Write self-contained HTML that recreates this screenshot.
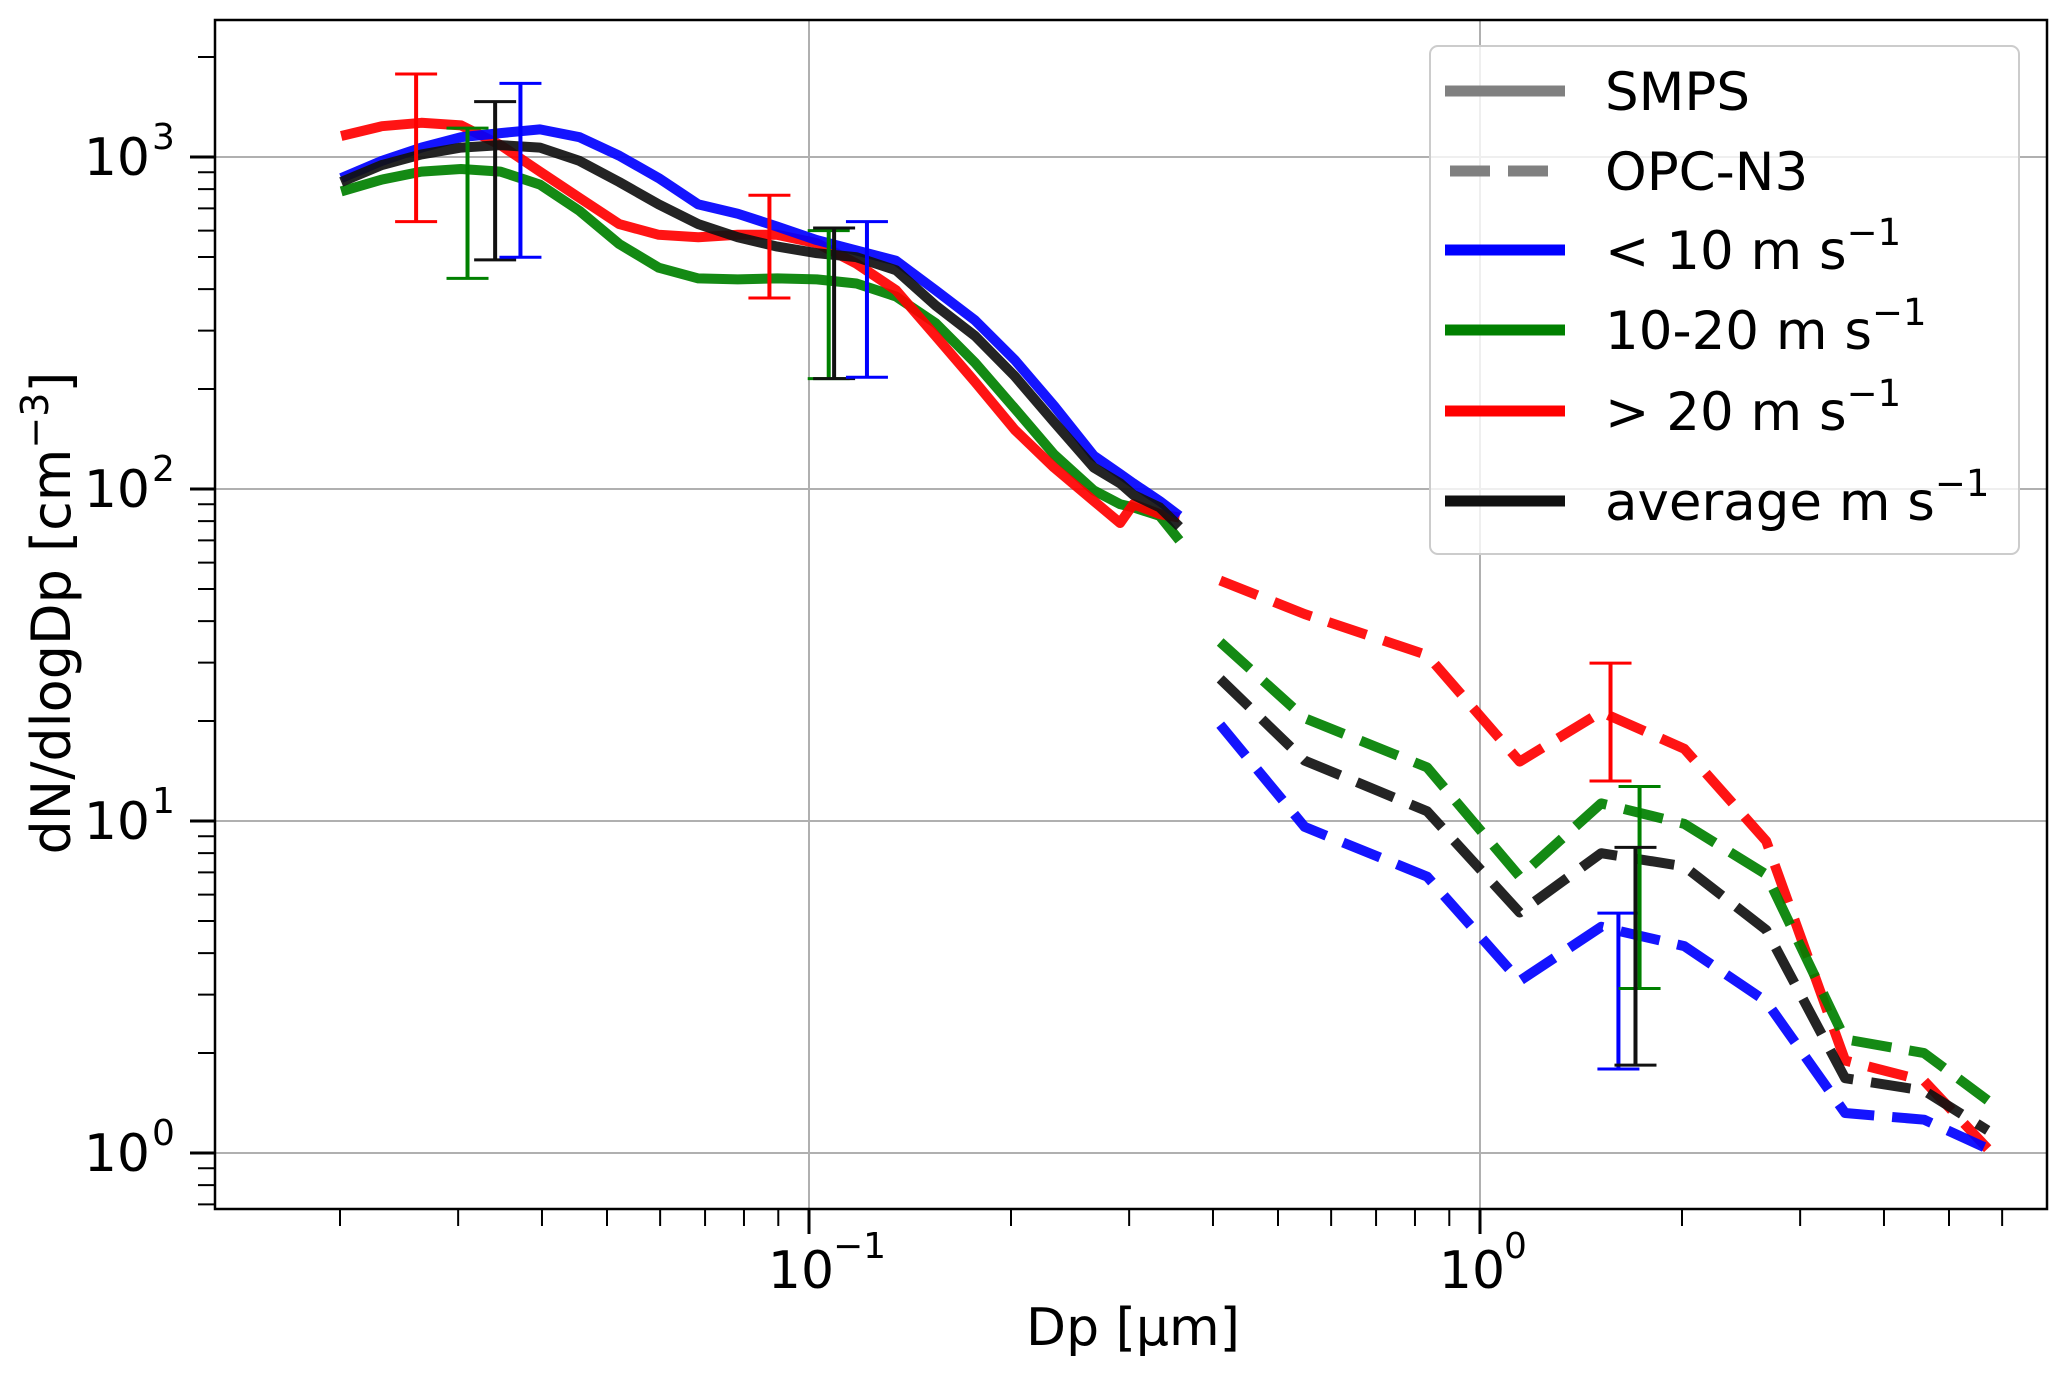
<!DOCTYPE html>
<html><head><meta charset="utf-8"><style>
html,body{margin:0;padding:0;background:#fff;}
svg text{font-family:"DejaVu Sans","Liberation Sans",sans-serif;fill:#000;}
</style></head><body>
<svg id="chart" width="2067" height="1377" viewBox="0 0 2067 1377" xmlns="http://www.w3.org/2000/svg">
<g id="grid"></g>
<g id="series"></g>
<rect x="215" y="20" width="1832" height="1189" fill="none" stroke="#000" stroke-width="2.5"/>
<g id="ticks"></g>
<text x="1133" y="1345" font-size="52" text-anchor="middle">Dp [µm]</text>
<text transform="translate(70,613) rotate(-90)" font-size="54" text-anchor="middle">dN/dlogDp [cm<tspan font-size="38" dy="-22">−3</tspan><tspan dy="22">]</tspan></text>
<g>
<rect x="1430" y="46" width="589" height="508" rx="8" fill="#fff" fill-opacity="0.8" stroke="#ccc" stroke-width="2"/>
<line x1="1445" y1="91" x2="1565" y2="91" stroke="#808080" stroke-width="11"/>
<text x="1605" y="110" font-size="53">SMPS</text>
<line x1="1450" y1="171" x2="1565" y2="171" stroke="#808080" stroke-width="11" stroke-dasharray="40,18"/>
<text x="1605" y="190" font-size="53">OPC-N3</text>
<line x1="1445" y1="250" x2="1565" y2="250" stroke="#0000ff" stroke-width="11"/>
<text x="1605" y="269" font-size="53">&lt; 10 m s<tspan font-size="37" dy="-24">−1</tspan></text>
<line x1="1445" y1="330" x2="1565" y2="330" stroke="#008000" stroke-width="11"/>
<text x="1605" y="349" font-size="53">10-20 m s<tspan font-size="37" dy="-24">−1</tspan></text>
<line x1="1445" y1="411" x2="1565" y2="411" stroke="#ff0000" stroke-width="11"/>
<text x="1605" y="430" font-size="53">&gt; 20 m s<tspan font-size="37" dy="-24">−1</tspan></text>
<line x1="1445" y1="501" x2="1565" y2="501" stroke="#111" stroke-width="11"/>
<text x="1605" y="520" font-size="53">average m s<tspan font-size="37" dy="-24">−1</tspan></text>
</g>
</svg>
<script>
const smpsDp=[0.02008,0.02309,0.02645,0.03029,0.03469,0.03973,0.0455,0.05213,0.0597,0.06839,0.07832,0.0897,0.1027,0.1177,0.1348,0.1544,0.1768,0.2025,0.2319,0.2657,0.2908,0.3043,0.3332,0.3565];
const smpsBlue=[864,973,1067,1147,1180,1211,1147,1009,864,720,675,617,562,523,487,397,322,245,178,126,111,104,92,83];
const smpsGreen=[788,855,904,920,904,826,688,547,464,431,428,431,428,416,380,316,240,175,127,99,90,88,83,70];
const smpsRed=[1157,1238,1268,1245,1086,904,753,628,583,573,583,583,550,477,397,289,210,151,116,92,79,90,84,82];
const smpsBlack=[841,946,1018,1067,1086,1067,973,841,720,628,573,537,513,499,456,357,289,219,159,116,104,96,88,77];
const opcDp=[0.41,0.548,0.834,1.146,1.516,2.016,2.67,3.5,4.59,5.71];
const opcRed=[53,42,31.6,15.1,21.3,16.5,8.7,1.9,1.65,1.03];
const opcGreen=[34.6,20.4,14.5,6.8,11.3,9.8,6.9,2.2,2.0,1.44];
const opcBlack=[26.8,15.2,10.7,5.3,8.0,7.3,4.7,1.68,1.54,1.17];
const opcBlue=[19.5,9.6,6.8,3.3,4.8,4.2,2.86,1.32,1.26,1.03];
const errX=[0.02597,0.03098,0.03406,0.03715,0.0873,0.107,0.109,0.122,1.565,1.608,1.729,1.705];
const errLo=[639,431,490,499,376,215,215,217,13.2,1.79,3.13,1.84];
const errHi=[1778,1222,1468,1667,767,600,611,639,29.9,5.28,12.7,8.33];
const errColor=["#ff0000","#008000","#111","#0000ff","#ff0000","#008000","#111","#0000ff","#ff0000","#0000ff","#008000","#111"];
const yTickLabels=["0","1","2","3"];
const xTickLabels=["−1","0"];

const NS="http://www.w3.org/2000/svg";
function X(v){return 1480+Math.log10(v)*671;}
function Y(v){return 1153-Math.log10(v)*332;}
function mk(tag,attrs,parent){const e=document.createElementNS(NS,tag);for(const k in attrs)e.setAttribute(k,attrs[k]);parent.appendChild(e);return e;}
const grid=document.getElementById('grid'),ticks=document.getElementById('ticks'),ser=document.getElementById('series');
for(let d=0;d<=3;d++){
  const y=Y(Math.pow(10,d));
  const g=mk('line',{x1:215,x2:2047,y1:y,y2:y,stroke:'#b0b0b0','stroke-width':2},grid);
  
  
  const t=mk('line',{x1:190,x2:215,y1:y,y2:y,stroke:'#000','stroke-width':3},ticks);
  
  
  const tx=mk('text',{x:150,y:y+18,'font-size':52,'text-anchor':'end'},ticks);
  tx.textContent='10';
  
  
  const sp=mk('text',{x:152,y:y-8,'font-size':36,'text-anchor':'start'},ticks);
  sp.textContent=yTickLabels[d];
  
  
}
for(let d=-1;d<=3;d++)for(let m=2;m<=9;m++){
  const v=m*Math.pow(10,d),y=Y(v);
  if(y<20||y>1209)continue;
  const t=mk('line',{x1:198,x2:215,y1:y,y2:y,stroke:'#000','stroke-width':2},ticks);
  
  
}
[-1,0].forEach((d,i)=>{
  const x=X(Math.pow(10,d));
  const g=mk('line',{x1:x,x2:x,y1:20,y2:1209,stroke:'#b0b0b0','stroke-width':2},grid);
  
  
  const t=mk('line',{x1:x,x2:x,y1:1209,y2:1234,stroke:'#000','stroke-width':3},ticks);
  
  
  const tx=mk('text',{x:x-8,y:1288,'font-size':52,'text-anchor':'middle'},ticks);
  tx.textContent='10';
  
  
  const sp=mk('text',{x:x+24,y:1258,'font-size':36},ticks);
  sp.textContent=xTickLabels[i];
  
  
});
for(let d=-2;d<=0;d++)for(let m=2;m<=9;m++){
  const x=X(m*Math.pow(10,d));
  if(x<215||x>2047)continue;
  const t=mk('line',{x1:x,x2:x,y1:1209,y2:1226,stroke:'#000','stroke-width':2},ticks);
  
  
}
function path(xs,ys,color,dash,name){
  const d=xs.map((v,i)=>(i?'L':'M')+X(v).toFixed(1)+','+Y(ys[i]).toFixed(1)).join(' ');
  const p=mk('path',{d:d,fill:'none',stroke:color,'stroke-width':10,'stroke-linejoin':'round','stroke-opacity':0.92},ser);
  if(dash)p.setAttribute('stroke-dasharray','40,18');
  
  
}
path(smpsDp,smpsGreen,'#008000',false,'smps-10-20-line');
path(smpsDp,smpsRed,'#ff0000',false,'smps-gt20-line');
path(smpsDp,smpsBlue,'#0000ff',false,'smps-lt10-line');
path(smpsDp,smpsBlack,'#111',false,'smps-average-line');
path(opcDp,opcRed,'#ff0000',true,'opc-gt20-line');
path(opcDp,opcGreen,'#008000',true,'opc-10-20-line');
path(opcDp,opcBlack,'#111',true,'opc-average-line');
path(opcDp,opcBlue,'#0000ff',true,'opc-lt10-line');
errX.forEach((v,i)=>{
  const x=X(v),y1=Y(errLo[i]),y2=Y(errHi[i]),c=errColor[i];
  const g=mk('g',{stroke:c},ser);
  
  
  mk('line',{x1:x,x2:x,y1:y1,y2:y2,'stroke-width':4},g);
  mk('line',{x1:x-21,x2:x+21,y1:y1,y2:y1,'stroke-width':3},g);
  mk('line',{x1:x-21,x2:x+21,y1:y2,y2:y2,'stroke-width':3},g);
});
</script>
</body></html>
